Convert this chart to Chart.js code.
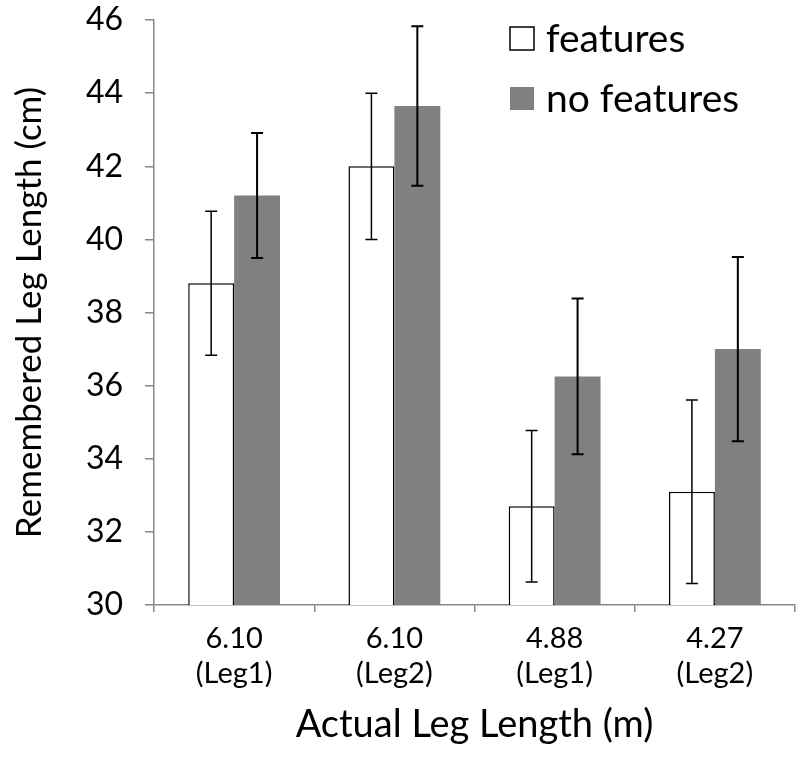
<!DOCTYPE html>
<html>
<head>
<meta charset="utf-8">
<script src="https://cdn.jsdelivr.net/npm/chart.js@4"></script>
<style>
  body { margin: 0; background: #fff; }
</style>
</head>
<body>
<canvas id="legChart" width="800" height="760"></canvas>
<script>
// data
let categories = [['6.10', '(Leg1)'], ['6.10', '(Leg2)'], ['4.88', '(Leg1)'], ['4.27', '(Leg2)']];
let features = [38.8, 42.0, 32.7, 33.1];
let featuresErr = [1.97, 2.0, 2.07, 2.51];
let noFeatures = [41.2, 43.65, 36.25, 37.0];
let noFeaturesErr = [1.71, 2.18, 2.13, 2.52];
let yTicks = [30, 32, 34, 36, 38, 40, 42, 44, 46];

let fontName = 'Lato';
let axisGray = '#888888';

// error bars, drawn through the y scale
let errorBars = {
  id: 'errorBars',
  afterDatasetsDraw(chart) {
    let ctx = chart.ctx;
    let yScale = chart.scales.y;
    let errs = [featuresErr, noFeaturesErr];
    chart.data.datasets.forEach(function (ds, d) {
      let meta = chart.getDatasetMeta(d);
      meta.data.forEach(function (bar, i) {
        let top = yScale.getPixelForValue(ds.data[i] + errs[d][i]);
        let bottom = yScale.getPixelForValue(ds.data[i] - errs[d][i]);
        ctx.save();
        ctx.strokeStyle = '#000';
        ctx.lineWidth = d === 0 ? 1.5 : 2;
        ctx.beginPath();
        ctx.moveTo(bar.x, top);
        ctx.lineTo(bar.x, bottom);
        ctx.moveTo(bar.x - 6, top);
        ctx.lineTo(bar.x + 6, top);
        ctx.moveTo(bar.x - 6, bottom);
        ctx.lineTo(bar.x + 6, bottom);
        ctx.stroke();
        ctx.restore();
      });
    });
  },
};

// legend in the top right of the plot
let cornerLegend = {
  id: 'cornerLegend',
  afterDraw(chart) {
    let ctx = chart.ctx;
    let rows = [27, 87];
    ctx.save();
    ctx.font = '39px ' + fontName;
    ctx.textBaseline = 'middle';
    chart.data.datasets.forEach(function (ds, d) {
      let y = rows[d];
      ctx.fillStyle = ds.backgroundColor;
      ctx.fillRect(510, y, 24, 23);
      if (d === 0) {
        ctx.strokeStyle = '#000';
        ctx.lineWidth = 1.5;
        ctx.strokeRect(510, y, 24, 23);
      }
      ctx.fillStyle = '#000';
      ctx.fillText(ds.label, 546, y + 12);
    });
    ctx.restore();
  },
};

let ctx = document.getElementById('legChart').getContext('2d');
let legChart = new Chart(ctx, {
  type: 'bar',
  data: {
    labels: categories,
    datasets: [
      {
        label: 'features',
        data: features,
        backgroundColor: '#ffffff',
        borderColor: '#000000',
        borderWidth: { top: 1.5, left: 1.5, right: 1.5, bottom: 0 },
        categoryPercentage: 0.573,
        barPercentage: 1.0,
      },
      {
        label: 'no features',
        data: noFeatures,
        backgroundColor: '#808080',
        borderWidth: 0,
        categoryPercentage: 0.573,
        barPercentage: 1.0,
      },
    ],
  },
  options: {
    responsive: false,
    animation: false,
    layout: { padding: { top: 20, right: 5, left: 0, bottom: 0 } },
    plugins: {
      legend: { display: false },
      tooltip: { enabled: false },
    },
    scales: {
      x: {
        grid: {
          drawOnChartArea: false,
          drawTicks: true,
          tickLength: 7,
          color: axisGray,
          lineWidth: 1.5,
        },
        border: { color: axisGray, width: 1.5 },
        ticks: {
          color: '#000',
          font: { family: fontName, size: 29, lineHeight: 1.2 },
          padding: 9,
          maxRotation: 0,
        },
        title: {
          display: true,
          text: 'Actual Leg Length (m)',
          color: '#000',
          font: { family: fontName, size: 38 },
          padding: { top: 6, bottom: 12 },
        },
        afterFit(scale) {
          scale.height = 155;
          scale.paddingLeft = 0;
          scale.paddingRight = 0;
        },
      },
      y: {
        min: 30,
        max: 46,
        afterBuildTicks(scale) {
          scale.ticks = yTicks.map(function (v) { return { value: v }; });
        },
        grid: {
          drawOnChartArea: false,
          drawTicks: true,
          tickLength: 9,
          color: axisGray,
          lineWidth: 1.5,
        },
        border: { color: axisGray, width: 1.5 },
        ticks: {
          color: '#000',
          font: { family: fontName, size: 32 },
          padding: 22,
        },
        title: {
          display: true,
          text: 'Remembered Leg Length (cm)',
          color: '#000',
          font: { family: fontName, size: 35 },
          padding: { top: 9, bottom: 0 },
        },
        afterFit(scale) {
          scale.width = 154;
          scale.paddingTop = 0;
          scale.paddingBottom = 0;
        },
      },
    },
  },
  plugins: [errorBars, cornerLegend],
});
</script>
</body>
</html>
